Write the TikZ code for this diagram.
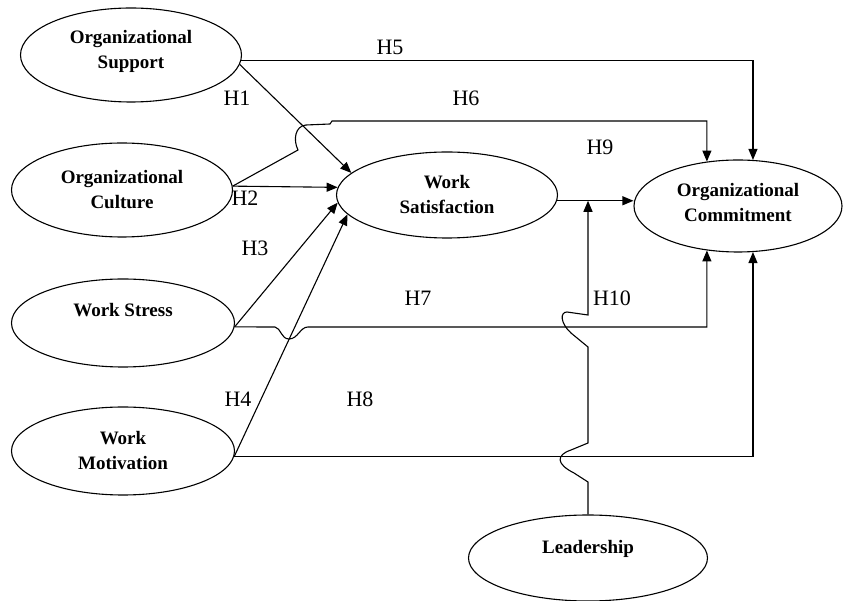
\documentclass[tikz,border=0pt]{standalone}
\usepackage{fontspec}
\setmainfont{Liberation Serif}
\usetikzlibrary{shapes.geometric,arrows.meta}
\tikzset{
  model/.style={
    x=1pt, y=-1pt,
    line width=1.1pt,
    >={Triangle[length=11pt,width=9pt]},
    construct/.style={
        draw,
        ellipse,
        inner sep=0pt,
        minimum width=221pt,
        minimum height=94pt,
        align=center,
        font=\fontsize{19}{25}\selectfont\bfseries,
    },
    oneline/.style={text depth=##1},
    hyp/.style={font=\fontsize{22}{22}\selectfont, inner sep=0pt},
  }
}

\begin{document}
\begin{tikzpicture}[model]
    \useasboundingbox (0,0) rectangle (844,601);

    \node[construct, oneline=12pt] (OS) at (131,55) {Organizational\\Support};
    \node[construct] (OCu) at (122,190) {Organizational\\Culture};
    \node[construct, minimum width=223pt, minimum height=88pt, oneline=26pt] (WSt) at (123,323) {Work Stress};
    \node[construct, minimum width=223pt, minimum height=88pt] (WM) at (123,451) {Work\\Motivation};
    \node[construct, minimum height=86pt] (WSa) at (447,195) {Work\\Satisfaction};
    \node[construct, minimum width=208pt, minimum height=92pt, oneline=8pt] (OC) at (738,206) {Organizational\\Commitment};
    \node[construct, minimum width=239pt, minimum height=86pt, oneline=22pt] (L) at (588,558) {Leadership};

    \node[hyp] (h1) at (237,98) {H1};
    \node[hyp] (h2) at (245,198) {H2};
    \node[hyp] (h3) at (255,248) {H3};
    \node[hyp] (h4) at (238,399) {H4};
    \node[hyp] (h5) at (390,47) {H5};
    \node[hyp] (h6) at (466,98) {H6};
    \node[hyp] (h7) at (418,298) {H7};
    \node[hyp] (h8) at (360,399) {H8};
    \node[hyp] (h9) at (600,147) {H9};
    \node[hyp] (h10) at (612,298) {H10};

    \draw[->] (OS.-3) -| (OC.72);
    \draw[->] (OS.-5) -- (WSa.167);
    \draw[->] (OCu.2) -- (298,150) .. controls (293,140) and (295,126) .. (306,125)
        -- (330,124) -- (332,121) -| (OC.125);
    \draw[->] (OCu.2) -- (WSa.176);
    \draw[->] (WSt.-2) -- (WSa.184);
    \draw[->] (WM.-3) -- (WSa.191);
    \draw[->] (WSt.-2) -- (275,327) .. controls (281,328) and (281,339) .. (289,339)
        .. controls (298,339) and (300,327) .. (308,327) -| (OC.235);
    \draw[->] (WM.-3) -| (OC.288);
    \draw[->] (WSa.-3) -- (WSa.-3 -| OC.west);
    \draw[->] (L.north) -- (588,482) -- (574,473) .. controls (556,464) and (556,455) .. (571,450)
        -- (588,443) -- (588,347) -- (571,333) .. controls (560,323) and (560,312) .. (567,312)
        -- (588,315) -- (L.north |- WSa.-3);
\end{tikzpicture}
\end{document}
